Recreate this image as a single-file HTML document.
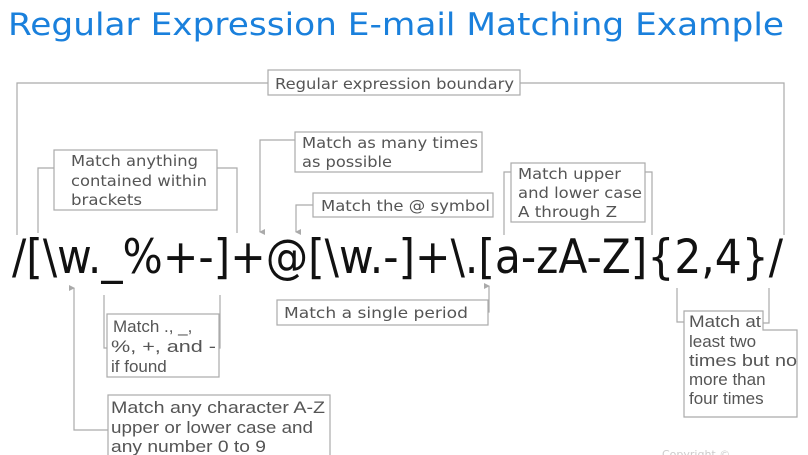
<!DOCTYPE html>
<html><head><meta charset="utf-8"><style>
html,body{margin:0;padding:0;background:#fff;width:808px;height:455px;overflow:hidden}
svg{display:block}
.t{font-family:"DejaVu Sans","Liberation Sans",sans-serif;font-size:15.5px;fill:#555}
.u{font-family:"Liberation Sans","DejaVu Sans",sans-serif;font-size:17px;fill:#555}
</style></head><body>
<svg width="808" height="455" viewBox="0 0 808 455" xmlns="http://www.w3.org/2000/svg">
<defs><marker id="a" markerWidth="6" markerHeight="6" refX="3" refY="5" orient="auto-start-reverse" markerUnits="userSpaceOnUse"><path d="M0,0 L6,0 L3,6 z" fill="#aaa"/></marker></defs>
<text x="8" y="35" font-family="'DejaVu Sans','Liberation Sans',sans-serif" font-size="31" fill="#1a80dc" textLength="776" lengthAdjust="spacingAndGlyphs">Regular Expression E-mail Matching Example</text>
<g fill="none" stroke="#aaa" stroke-width="1.2">
<polyline points="268,83 17,83 17,235"/>
<polyline points="520,83 784,83 784,235"/>
<polyline points="54,168 38,168 38,233"/>
<polyline points="217,168 237,168 237,233"/>
<polyline points="295,140 260,140 260,232" marker-end="url(#a)"/>
<polyline points="313,205 296,205 296,232" marker-end="url(#a)"/>
<polyline points="511,172 504,172 504,235"/>
<polyline points="645,172 652,172 652,235"/>
<polyline points="108,430 74,430 74,288" marker-end="url(#a)"/>
<polyline points="104,295 104,348 107,348"/>
<polyline points="220,295 220,348 219,348"/>
<polyline points="488,312 489,312 489,286" marker-end="url(#a)"/>
<polyline points="677,288 677,322 684,322"/>
<polyline points="769,288 769,323 763,323"/>
<rect x="268" y="70" width="252" height="25"/>
<rect x="54" y="150" width="163" height="60"/>
<rect x="295" y="132" width="187" height="40"/>
<rect x="313" y="193" width="180" height="24"/>
<rect x="511" y="163" width="134" height="59"/>
<rect x="107" y="314" width="112" height="63"/>
<rect x="277" y="300" width="211" height="25"/>
<polygon points="684,311 763,311 763,330 797,330 797,417 684,417"/>
<rect x="108" y="395" width="222" height="70"/>
</g>
<text x="12" y="273" font-family="'DejaVu Sans','Liberation Sans',sans-serif" font-size="47" fill="#111" textLength="771" lengthAdjust="spacingAndGlyphs">/[\w._%+-]+@[\w.-]+\.[a-zA-Z]{2,4}/</text>
<text class="t" x="275" y="89" textLength="239" lengthAdjust="spacingAndGlyphs">Regular expression boundary</text>
<text class="t" x="71" y="166" textLength="127" lengthAdjust="spacingAndGlyphs">Match anything</text>
<text class="t" x="71" y="186" textLength="136" lengthAdjust="spacingAndGlyphs">contained within</text>
<text class="t" x="71" y="205" textLength="71" lengthAdjust="spacingAndGlyphs">brackets</text>
<text class="t" x="302" y="148" textLength="176" lengthAdjust="spacingAndGlyphs">Match as many times</text>
<text class="t" x="302" y="167" textLength="90" lengthAdjust="spacingAndGlyphs">as possible</text>
<text class="t" x="321" y="211" textLength="169" lengthAdjust="spacingAndGlyphs">Match the @ symbol</text>
<text class="t" x="518" y="179" textLength="103" lengthAdjust="spacingAndGlyphs">Match upper</text>
<text class="t" x="518" y="198" textLength="124" lengthAdjust="spacingAndGlyphs">and lower case</text>
<text class="t" x="518" y="217" textLength="99" lengthAdjust="spacingAndGlyphs">A through Z</text>
<text class="u" x="113" y="332">Match ., _,</text>
<text class="u" x="111" y="352" textLength="105" lengthAdjust="spacingAndGlyphs">%, +, and -</text>
<text class="u" x="111" y="372">if found</text>
<text class="t" x="284" y="318" textLength="184" lengthAdjust="spacingAndGlyphs">Match a single period</text>
<text class="u" x="689" y="327" textLength="72" lengthAdjust="spacingAndGlyphs">Match at</text>
<text class="u" x="689" y="347">least two</text>
<text class="u" x="689" y="366" textLength="108" lengthAdjust="spacingAndGlyphs">times but no</text>
<text class="u" x="689" y="385">more than</text>
<text class="u" x="689" y="404">four times</text>
<text class="u" x="111" y="413" textLength="214" lengthAdjust="spacingAndGlyphs">Match any character A-Z</text>
<text class="u" x="111" y="433" textLength="202" lengthAdjust="spacingAndGlyphs">upper or lower case and</text>
<text class="u" x="111" y="452" textLength="155" lengthAdjust="spacingAndGlyphs">any number 0 to 9</text>
<text x="662" y="458" font-family="'DejaVu Sans',sans-serif" font-size="11" fill="#ccc">Copyright ©</text>
</svg>
</body></html>
